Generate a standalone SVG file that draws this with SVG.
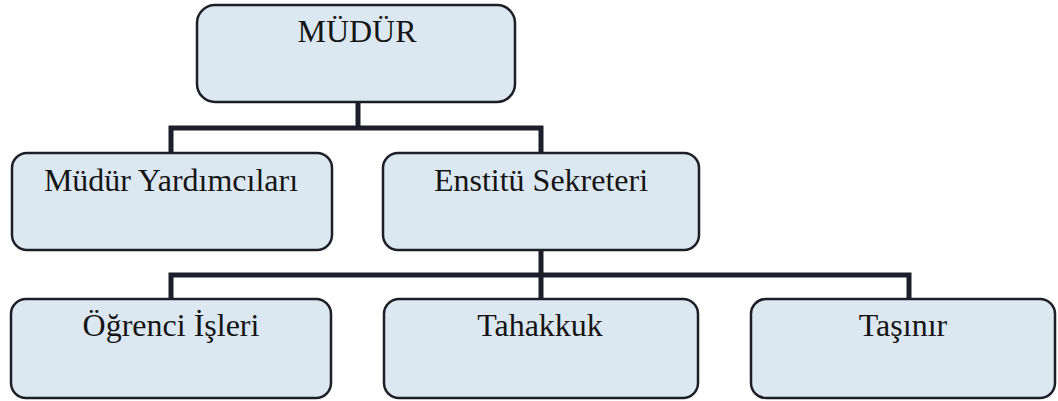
<svg xmlns="http://www.w3.org/2000/svg" width="1058" height="401" viewBox="0 0 1058 401">
<style>
.box{fill:#dce8f1;stroke:#1e1e28;stroke-width:2.5}
.lbl{font-family:"Liberation Serif","Times New Roman",serif;font-size:32px;fill:#151515;text-anchor:middle}
.conn{fill:none;stroke:#1d1d2b;stroke-width:5;stroke-linejoin:miter;stroke-linecap:butt}
</style>
<rect width="1058" height="401" fill="#ffffff"/>
<g id="connectors">
<path class="conn" d="M358 102 V128"/>
<path class="conn" d="M171 153 V128 H541 V153"/>
<path class="conn" d="M541 250 V299"/>
<path class="conn" d="M171 299 V275 H909 V299"/>
</g>
<g id="mudur">
<rect class="box" x="197" y="5" width="318" height="97" rx="18"/>
<text class="lbl" x="357" y="42">MÜDÜR</text>
</g>
<g id="mudur-yardimcilari">
<rect class="box" x="12" y="153" width="320" height="97" rx="15"/>
<text class="lbl" x="171" y="191">Müdür Yardımcıları</text>
</g>
<g id="enstitu-sekreteri">
<rect class="box" x="383" y="153" width="316" height="97" rx="15"/>
<text class="lbl" x="541" y="191">Enstitü Sekreteri</text>
</g>
<g id="ogrenci-isleri">
<rect class="box" x="11" y="299" width="320" height="99" rx="15"/>
<text class="lbl" x="171" y="336">Öğrenci İşleri</text>
</g>
<g id="tahakkuk">
<rect class="box" x="384" y="299" width="314" height="99" rx="15"/>
<text class="lbl" x="540" y="336">Tahakkuk</text>
</g>
<g id="tasinir">
<rect class="box" x="751" y="299" width="304" height="99" rx="15"/>
<text class="lbl" x="903" y="336">Taşınır</text>
</g>
</svg>
